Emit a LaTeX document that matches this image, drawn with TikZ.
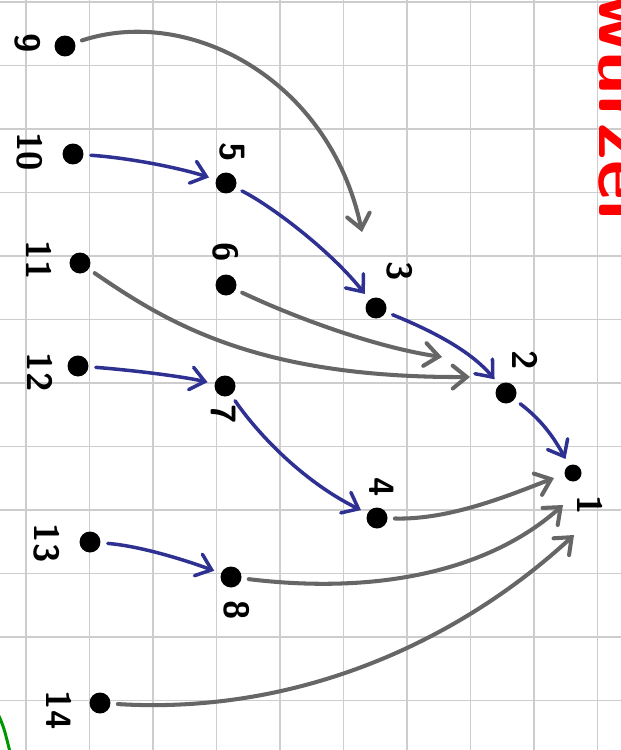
\documentclass[tikz,border=0pt]{standalone}
\usepackage{tikz}
\usetikzlibrary{arrows.meta}
\definecolor{penblue}{RGB}{46,49,146}
\definecolor{pengray}{RGB}{102,102,102}
\definecolor{penred}{RGB}{255,0,0}
\definecolor{pengreen}{RGB}{0,150,0}
\definecolor{gridgray}{RGB}{205,205,205}

\begin{document}
\begin{tikzpicture}[
  x=0.02cm, y=-0.02cm,
  gridline/.style={draw=gridgray, line width=1.1pt},
  vtx/.style={circle, fill=black, inner sep=0pt, minimum size=0.42cm},
  lbl/.style={font=\fontsize{20}{20}\selectfont\sffamily\bfseries, rotate=-90, inner sep=0pt},
  blueedge/.style={draw=penblue, line width=2pt, line cap=round, -{Straight Barb[length=8pt, width=13pt, line cap=round]}, shorten <=4pt, shorten >=4pt},
  grayedge/.style={draw=pengray, line width=2.3pt, line cap=round, -{Straight Barb[length=8pt, width=13pt, line cap=round]}, shorten <=4pt}
]
\useasboundingbox (0,0) rectangle (621,750);
\clip (0,0) rectangle (621,750);

% squared paper
\foreach \k in {0,...,9} {\draw[gridline] ({26+63.5*\k},0) -- ({26+63.5*\k},750);}
\foreach \k in {0,...,11} {\draw[gridline] (0,{2+63.5*\k}) -- (621,{2+63.5*\k});}

\node[font=\fontsize{44}{44}\selectfont\sffamily\bfseries, text=penred, rotate=-90, anchor=base west, inner sep=0pt] (head) at (599,-6) {wurzel};
\draw[pengreen, line width=1.7pt] (-1,716) .. controls (4,728) .. (10,752);

% vertices
\foreach \n/\px/\py in {9/65/46,10/73/154,11/80/263,12/78/366,13/90/542,14/100/703,5/226/183,6/226/285,7/225/386,8/231/577,3/376/308,4/377/518,2/506/393} {
  \node[vtx] (n\n) at (\px,\py) {};
}
\node[vtx, minimum size=0.34cm] (n1) at (573,473) {};

% labels
\foreach \n/\px/\py in {9/28/43,10/30/152,11/39/260,12/40/372,13/47/543,14/59/710,5/232/152,6/226/252,7/224/414,8/237/610,3/400/271,4/382/487,2/525/360,1/590/505} {
  \node[lbl] (l\n) at (\px,\py) {\n};
}

% free arrow ends
\coordinate (a9) at (362,232);
\coordinate (a6) at (442,357);
\coordinate (a11) at (470,377);
\coordinate (a4) at (554,478);
\coordinate (a8) at (563,505);
\coordinate (a14) at (574,535);

\draw[blueedge] (n10) .. controls (130,158) and (180,168) .. (n5);
\draw[blueedge] (n5) .. controls (270,205) and (330,250) .. (n3);
\draw[blueedge] (n3) .. controls (430,330) and (470,350) .. (n2);
\draw[blueedge] (n2) .. controls (535,415) and (550,430) .. (n1);
\draw[blueedge] (n12) .. controls (130,370) and (180,376) .. (n7);
\draw[blueedge] (n7) .. controls (255,430) and (300,480) .. (n4);
\draw[blueedge] (n13) .. controls (140,546) and (185,560) .. (n8);

\draw[grayedge] (n9) .. controls (190,5) and (330,80) .. (a9);
\draw[grayedge] (n6) .. controls (300,320) and (380,348) .. (a6);
\draw[grayedge] (n11) .. controls (170,325) and (260,378) .. (a11);
\draw[grayedge] (n4) .. controls (450,520) and (510,495) .. (a4);
\draw[grayedge] (n8) .. controls (380,595) and (490,570) .. (a8);
\draw[grayedge] (n14) .. controls (300,715) and (460,640) .. (a14);
\end{tikzpicture}
\end{document}
